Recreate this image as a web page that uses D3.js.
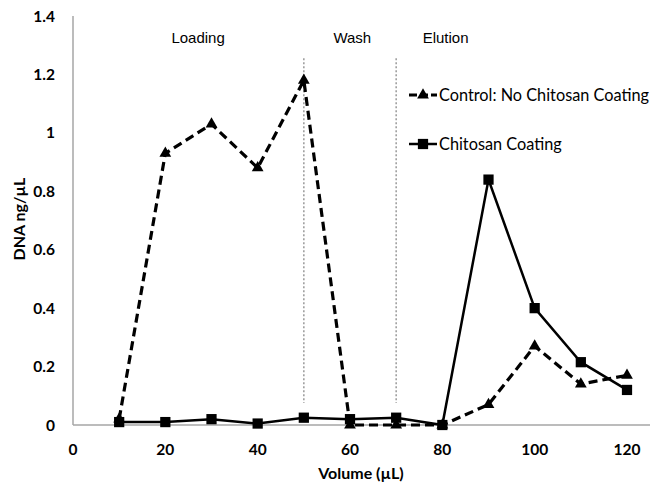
<!DOCTYPE html>
<html>
<head>
<meta charset="utf-8">
<script src="https://cdn.jsdelivr.net/npm/d3@7"></script>
<style>
  body { margin: 0; background: #fff; }
  svg { display: block; font-family: Lato, "Open Sans", sans-serif; }
</style>
</head>
<body>
<svg width="653" height="485"></svg>
<script>
var volumes = [10, 20, 30, 40, 50, 60, 70, 80, 90, 100, 110, 120];
var control = [0.02, 0.93, 1.03, 0.88, 1.18, 0, 0, 0, 0.07, 0.27, 0.14, 0.17];
var chitosan = [0.01, 0.01, 0.02, 0.005, 0.025, 0.02, 0.025, 0, 0.84, 0.40, 0.215, 0.12];
var xTicks = [0, 20, 40, 60, 80, 100, 120];
var yTicks = [0, 0.2, 0.4, 0.6, 0.8, 1, 1.2, 1.4];
var phaseLines = [50, 70];
var phaseLineRange = [0.075, 1.255];
var phases = [{name: 'Loading', x: 27.1}, {name: 'Wash', x: 60.5}, {name: 'Elution', x: 80.7}];

var svg = d3.select('svg');

var x = d3.scaleLinear().domain([0, 120]).range([73, 627]);
var y = d3.scaleLinear().domain([0, 1.4]).range([425, 16]);

// axes (gray lines, no tick marks)
svg.append('line').attr('x1', 73).attr('x2', 73).attr('y1', y(1.4)).attr('y2', y(0))
  .attr('stroke', '#a6a6a6').attr('stroke-width', 1.5);
svg.append('line').attr('x1', 73).attr('x2', 650).attr('y1', y(0)).attr('y2', y(0))
  .attr('stroke', '#a6a6a6').attr('stroke-width', 1.5);

svg.selectAll('.ylab').data(yTicks).enter().append('text')
  .attr('x', 55).attr('y', function (d) { return y(d); }).attr('dy', '0.36em')
  .attr('text-anchor', 'end').attr('font-size', 15.5).attr('font-weight', 'bold')
  .text(function (d) { return d; });

svg.selectAll('.xlab').data(xTicks).enter().append('text')
  .attr('x', function (d) { return x(d); }).attr('y', 455)
  .attr('text-anchor', 'middle').attr('font-size', 15.5).attr('font-weight', 'bold')
  .text(function (d) { return d; });

svg.append('text').attr('x', 361).attr('y', 479).attr('text-anchor', 'middle')
  .attr('font-size', 16).attr('font-weight', 'bold').text('Volume (µL)');
svg.append('text').attr('transform', 'translate(25,219) rotate(-90)').attr('text-anchor', 'middle')
  .attr('font-size', 16).attr('font-weight', 'bold').text('DNA ng/µL');

// phase separators
svg.selectAll('.phase').data(phaseLines).enter().append('line')
  .attr('x1', function (d) { return x(d); }).attr('x2', function (d) { return x(d); })
  .attr('y1', y(phaseLineRange[1])).attr('y2', y(phaseLineRange[0]))
  .attr('stroke', '#999').attr('stroke-width', 1.5).attr('stroke-dasharray', '2,2');

svg.selectAll('.phaseName').data(phases).enter().append('text')
  .attr('x', function (d) { return x(d.x); }).attr('y', 43)
  .attr('text-anchor', 'middle').attr('font-size', 15)
  .attr('font-family', '"Liberation Sans", Arial, sans-serif')
  .text(function (d) { return d.name; });

var line = d3.line().x(function (d, i) { return x(volumes[i]); }).y(function (d) { return y(d); });

svg.append('path').datum(control).attr('d', line).attr('fill', 'none')
  .attr('stroke', '#000').attr('stroke-width', 3.2).attr('stroke-dasharray', '9,5');
svg.append('path').datum(chitosan).attr('d', line).attr('fill', 'none')
  .attr('stroke', '#000').attr('stroke-width', 2.5);

var tri = d3.symbol().type(d3.symbolTriangle).size(60);
var sq = d3.symbol().type(d3.symbolSquare).size(105);

svg.selectAll('.tri').data(control).enter().append('path').attr('d', tri)
  .attr('transform', function (d, i) { return 'translate(' + x(volumes[i]) + ',' + y(d) + ')'; });
svg.selectAll('.sq').data(chitosan).enter().append('path').attr('d', sq)
  .attr('transform', function (d, i) { return 'translate(' + x(volumes[i]) + ',' + y(d) + ')'; });

// legend
var legend = [
  {name: 'Control: No Chitosan Coating', sym: tri, dash: '8,3', w: 3, y: 95},
  {name: 'Chitosan Coating', sym: sq, dash: null, w: 2.5, y: 144}
];
var lg = svg.selectAll('.lg').data(legend).enter().append('g')
  .attr('transform', function (d) { return 'translate(0,' + d.y + ')'; });
lg.append('line').attr('x1', 409).attr('x2', 437).attr('y1', 0).attr('y2', 0)
  .attr('stroke', '#000').attr('stroke-width', function (d) { return d.w; })
  .attr('stroke-dasharray', function (d) { return d.dash; });
lg.append('path').attr('d', function (d) { return d.sym(); }).attr('transform', 'translate(423,0)');
lg.append('text').attr('x', 439).attr('dy', '0.35em').attr('font-size', 16.3)
  .text(function (d) { return d.name; });
</script>
</body>
</html>
